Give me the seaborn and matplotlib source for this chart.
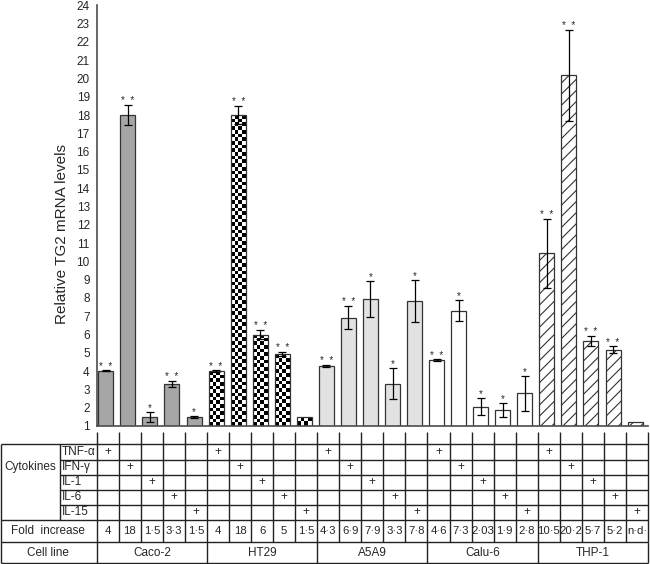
import numpy as np
import pandas as pd
import matplotlib
matplotlib.use("Agg")
import matplotlib.pyplot as plt
import seaborn as sns

# ---------------- data ----------------
cell_lines = ["Caco-2", "HT29", "A5A9", "Calu-6", "THP-1"]
cytokines = ["TNF-α", "IFN-γ", "IL-1", "IL-6", "IL-15"]

caco2_levels = [4.02, 18.0, 1.50, 3.28, 1.50]
ht29_levels = [4.00, 18.0, 6.00, 4.93, 1.50]
a5a9_levels = [4.28, 6.92, 7.93, 3.30, 7.82]
calu6_levels = [4.59, 7.30, 2.06, 1.87, 2.79]
thp1_levels = [10.44, 20.17, 5.66, 5.17, 1.20]

caco2_err = [0.02, 0.55, 0.28, 0.16, 0.04]
ht29_err = [0.04, 0.50, 0.24, 0.13, np.nan]
a5a9_err = [0.04, 0.62, 0.98, 0.85, 1.15]
calu6_err = [0.05, 0.57, 0.47, 0.40, 0.96]
thp1_err = [1.90, 2.50, 0.26, 0.18, np.nan]

caco2_sig = ["*  *", "*  *", "*", "*  *", "*"]
ht29_sig = ["*  *", "*  *", "*  *", "*  *", ""]
a5a9_sig = ["*  *", "*  *", "*", "*", "*"]
calu6_sig = ["*  *", "*", "*", "*", "*"]
thp1_sig = ["*  *", "*  *", "*  *", "*  *", ""]

caco2_fold = ["4", "18", "1·5", "3·3", "1·5"]
ht29_fold = ["4", "18", "6", "5", "1·5"]
a5a9_fold = ["4·3", "6·9", "7·9", "3·3", "7·8"]
calu6_fold = ["4·6", "7·3", "2·03", "1·9", "2·8"]
thp1_fold = ["10·5", "20·2", "5·7", "5·2", "n·d·"]

yticks = list(range(1, 25))
ylabel = "Relative TG2 mRNA levels"

levels = caco2_levels + ht29_levels + a5a9_levels + calu6_levels + thp1_levels
errs = caco2_err + ht29_err + a5a9_err + calu6_err + thp1_err
sigs = caco2_sig + ht29_sig + a5a9_sig + calu6_sig + thp1_sig
folds = caco2_fold + ht29_fold + a5a9_fold + calu6_fold + thp1_fold

conditions = [f"{cl}|{ck}" for cl in cell_lines for ck in cytokines]
df = pd.DataFrame({
    "condition": conditions,
    "cell_line": [cl for cl in cell_lines for _ in cytokines],
    "cytokine": [ck for _ in cell_lines for ck in cytokines],
    "level": levels,
    "err": errs,
})

# ---------------- style ----------------
sns.set_style("white")
plt.rcParams["font.family"] = ["Liberation Sans", "DejaVu Sans"]
plt.rcParams["hatch.linewidth"] = 0.8

W_PX, H_PX = 650, 564
fig = plt.figure(figsize=(W_PX / 100, H_PX / 100), dpi=100)

ax_left, ax_right, ax_top, ax_bottom = 96.7, 648.0, 5.3, 426.0
ax = fig.add_axes([ax_left / W_PX, 1 - ax_bottom / H_PX,
                   (ax_right - ax_left) / W_PX, (ax_bottom - ax_top) / H_PX])

palette = {"Caco-2": "#a6a6a6", "HT29": "white", "A5A9": "#e2e2e2",
           "Calu-6": "white", "THP-1": "white"}

sns.barplot(data=df, x="condition", y="level", hue="cell_line",
            order=conditions, hue_order=cell_lines, palette=palette,
            dodge=False, width=0.68, edgecolor="#333333", linewidth=0.9,
            errorbar=None, legend=False, ax=ax)

XLIM = (-0.414, len(conditions) - 0.414)
YLIM = (1, 24)
ax.set_xlim(*XLIM)
ax.set_ylim(*YLIM)

bars = sorted(ax.patches, key=lambda p: p.get_x())

# pixel scale for checkerboard
px_per_y = (ax_bottom - ax_top) / (YLIM[1] - YLIM[0])
cell_px = 3.7

for i, p in enumerate(bars):
    cl = df["cell_line"].iloc[i]
    if cl == "THP-1":
        p.set_hatch("///")
    elif cl == "HT29":
        p.set_facecolor("none")
        x0, w, h = p.get_x(), p.get_width(), p.get_height()
        nrows = max(1, int(round((h - YLIM[0]) * px_per_y / cell_px)))
        ncols = 4
        img = np.add.outer(np.arange(nrows), np.arange(ncols)) % 2
        im = ax.imshow(img, cmap="gray", extent=(x0, x0 + w, YLIM[0], h),
                       origin="lower", interpolation="nearest", aspect="auto",
                       zorder=p.get_zorder() - 0.1, vmin=0, vmax=1)
        im.set_clip_path(p)

ax.set_xlim(*XLIM)
ax.set_ylim(*YLIM)

# error bars and significance stars
centers = np.array([p.get_x() + p.get_width() / 2 for p in bars])
lv = np.array(levels)
ev = np.array(errs, dtype=float)
mask = ~np.isnan(ev)
ax.errorbar(centers[mask], lv[mask], yerr=ev[mask], fmt="none", ecolor="black",
            elinewidth=0.9, capsize=2.6, capthick=0.9, zorder=4)

for xc, v, e, s in zip(centers, lv, ev, sigs):
    if not s:
        continue
    top = v + (0 if np.isnan(e) else e)
    ax.annotate(s, xy=(xc, top), xytext=(0, -0.8), textcoords="offset points",
                ha="center", va="bottom", fontsize=7)

ax.set_yticks(yticks)
ax.set_yticklabels([str(t) for t in yticks])
ax.set_xticks([])
ax.set_xlabel("")
ax.set_ylabel("")
for side in ["top", "right"]:
    ax.spines[side].set_visible(False)
for side in ["left", "bottom"]:
    ax.spines[side].set_color("#4d4d4d")
    ax.spines[side].set_linewidth(1.2)
ax.tick_params(axis="y", direction="in", length=4, width=0.9, color="#4d4d4d",
               labelsize=8.5, pad=5)

fig.text(62 / W_PX, 1 - 234 / H_PX, ylabel, rotation=90, ha="center",
         va="center", fontsize=11)

# ---------------- table beneath ----------------
tab = fig.add_axes([0, 0, 1, 1])
tab.set_xlim(0, W_PX)
tab.set_ylim(H_PX, 0)
tab.axis("off")

fig.canvas.draw()
edges_data = np.arange(len(conditions) + 1) + XLIM[0]
col_x = [ax.transData.transform((xd, 1))[0] for xd in edges_data]
col_c = [(a + b) / 2 for a, b in zip(col_x[:-1], col_x[1:])]

lc, lw = "#222222", 1.0
y_tick_top, y_tab_top = 432, 444
row_y = [444, 459.5, 474.5, 489.5, 504.5, 519.5]
y_fold_bot, y_cell_bot = 542, 563.3
x_outer, x_sub = 1.0, 59.5

def hline(y, x0, x1):
    tab.plot([x0, x1], [y, y], color=lc, lw=lw, solid_capstyle="butt")

def vline(x, y0, y1):
    tab.plot([x, x], [y0, y1], color=lc, lw=lw, solid_capstyle="butt")

hline(y_tab_top, x_outer, col_x[-1])
for y in row_y[1:-1]:
    hline(y, x_sub, col_x[-1])
hline(row_y[-1], x_outer, col_x[-1])
hline(y_fold_bot, x_outer, col_x[-1])
hline(y_cell_bot, x_outer, col_x[-1])
vline(x_outer, y_tab_top, y_cell_bot)
vline(x_sub, y_tab_top, row_y[-1])
for k, x in enumerate(col_x):
    vline(x, y_tick_top, y_fold_bot)
    if k % len(cytokines) == 0:
        vline(x, y_fold_bot, y_cell_bot)

fs = 8.5
tab.text(30, 467, "Cytokines", ha="center", va="center", fontsize=fs)
for r, ck in enumerate(cytokines):
    yc = (row_y[r] + row_y[r + 1]) / 2
    tab.text(61.5, yc, ck, ha="left", va="center", fontsize=fs)
for i in range(len(conditions)):
    r = i % len(cytokines)
    yc = (row_y[r] + row_y[r + 1]) / 2
    tab.text(col_c[i], yc, "+", ha="center", va="center", fontsize=fs)
    tab.text(col_c[i], (row_y[-1] + y_fold_bot) / 2, folds[i], ha="center",
             va="center", fontsize=8.2)

tab.text(48, (row_y[-1] + y_fold_bot) / 2, "Fold  increase", ha="center",
         va="center", fontsize=fs)
tab.text(48, (y_fold_bot + y_cell_bot) / 2, "Cell line", ha="center",
         va="center", fontsize=fs)
n = len(cytokines)
for g, cl in enumerate(cell_lines):
    xc = (col_x[g * n] + col_x[(g + 1) * n]) / 2
    tab.text(xc, (y_fold_bot + y_cell_bot) / 2, cl, ha="center", va="center",
             fontsize=fs)

fig.savefig("out.png", dpi=100)
